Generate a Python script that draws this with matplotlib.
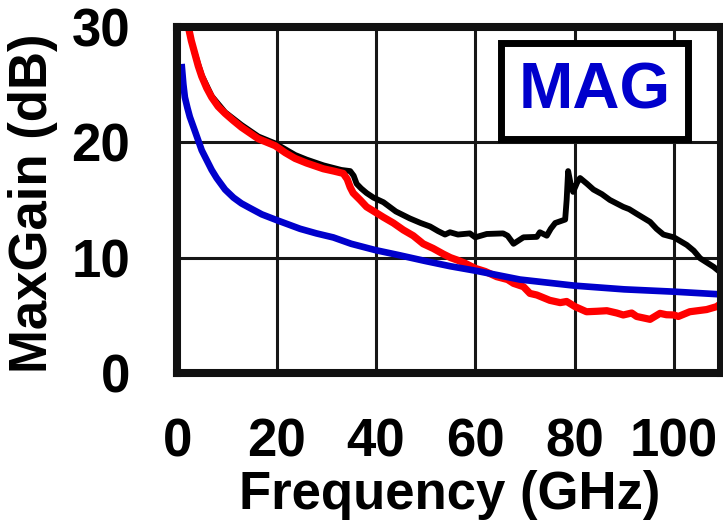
import matplotlib
matplotlib.use("Agg")
import matplotlib.pyplot as plt
from matplotlib.patches import Rectangle

# MAG curves (frequency in GHz, gain in dB)
blue_x = [0.9, 1.2, 1.5, 2.0, 2.5, 3.5, 4.9, 6.9, 7.9, 9.6, 11.3, 12.9, 14.6, 17.0, 20.0,
          24.7, 28.0, 31.4, 35.0, 39.8, 44.8, 50.0, 55.0, 60.0, 69.0, 80.0, 90.0, 100.0, 110.0]
blue_y = [26.5, 25.0, 23.9, 23.0, 22.2, 21.0, 19.3, 17.6, 16.9, 15.9, 15.2, 14.7, 14.3, 13.75, 13.25,
          12.5, 12.1, 11.75, 11.2, 10.66, 10.2, 9.7, 9.25, 8.87, 8.1, 7.57, 7.25, 7.05, 6.8]

red_x = [1.8, 2.2, 2.8, 3.5, 4.2, 4.9, 5.9, 6.9, 8.2, 9.6, 11.2, 12.9, 14.6, 16.3, 18.0,
         19.7, 21.7, 23.7, 26.0, 29.4, 31.5, 33.4, 34.2, 34.8, 35.4, 36.8, 38.1, 40.0, 41.5,
         43.5, 45.5, 47.5, 49.5, 51.5, 53.6, 55.0, 56.3, 58.0, 60.0, 62.0, 64.3, 66.5, 67.7,
         69.7, 71.0, 72.4, 75.0, 77.1, 78.4, 80.1, 82.4, 84.5, 86.5, 88.5, 89.8, 91.5, 92.5,
         95.2, 97.2, 98.5, 100.0, 100.9, 103.2, 106.6, 108.6, 109.4, 110.0]
red_y = [31.0, 30.0, 28.8, 27.7, 26.6, 25.7, 24.7, 23.9, 23.1, 22.5, 21.9, 21.3, 20.8, 20.3, 20.0,
         19.7, 19.1, 18.6, 18.2, 17.7, 17.5, 17.3, 16.8, 16.1, 15.6, 15.0, 14.4, 13.9, 13.5,
         13.0, 12.4, 11.9, 11.2, 10.8, 10.3, 10.0, 9.8, 9.5, 9.07, 8.8, 8.35, 8.1, 7.77,
         7.48, 6.9, 6.76, 6.3, 6.1, 6.2, 5.75, 5.31, 5.35, 5.4, 5.2, 5.03, 5.2, 4.9,
         4.65, 5.17, 5.05, 5.03, 4.9, 5.31, 5.5, 5.75, 6.0, 6.5]

black_x = [3.5, 4.9, 6.9, 9.6, 12.9, 16.3, 19.7, 23.7, 26.0, 29.4, 33.0, 34.8, 35.5, 36.1, 37.0,
           38.1, 39.5, 41.5, 44.0, 46.8, 49.0, 50.9, 52.5, 53.9, 54.9, 56.5, 58.9, 60.0, 62.3,
           65.6, 66.5, 67.7, 69.7, 72.4, 73.0, 74.4, 75.2, 76.1, 78.1, 78.4, 78.7, 79.2, 79.7,
           80.5, 81.1, 82.5, 83.8, 85.5, 87.1, 89.8, 91.0, 92.5, 95.2, 96.5, 97.9, 100.0, 102.6,
           104.0, 105.3, 108.0, 110.0]
black_y = [27.7, 25.8, 24.0, 22.6, 21.5, 20.5, 19.9, 18.9, 18.5, 18.0, 17.6, 17.5, 17.1, 16.4, 16.0,
           15.6, 15.2, 14.8, 14.0, 13.4, 13.0, 12.7, 12.3, 12.0, 12.2, 12.0, 12.1, 11.76, 12.05,
           12.1, 11.9, 11.2, 11.76, 11.8, 12.2, 11.9, 12.5, 13.0, 13.3, 15.0, 17.5, 16.4, 15.7,
           16.5, 16.9, 16.4, 15.9, 15.5, 15.0, 14.4, 14.2, 13.8, 13.1, 12.5, 12.0, 11.76, 11.1,
           10.6, 9.94, 9.2, 8.5]

x_ticks = [0, 20, 40, 60, 80, 100]
y_ticks = [0, 10, 20, 30]


def main() -> None:
    plt.rcParams["font.family"] = ["Liberation Sans", "DejaVu Sans"]
    plt.rcParams["font.weight"] = "bold"

    fig = plt.figure(figsize=(7.23, 5.23), dpi=100)
    ax = fig.add_axes([0.2454, 0.2868, 0.7519, 0.6618])

    ax.plot(black_x, black_y, color="black", lw=4.2, solid_joinstyle="round", zorder=3)
    ax.plot(red_x, red_y, color="#ff0000", lw=5.2, solid_joinstyle="round", zorder=4)
    ax.plot(blue_x, blue_y, color="#0000cc", lw=4.8, solid_joinstyle="round", zorder=4)

    ax.set_xlim(0, 109.5)
    ax.set_ylim(0, 30)
    ax.set_xticks(x_ticks)
    ax.set_yticks(y_ticks)
    ax.grid(True, color="#161616", lw=2.2)
    ax.set_axisbelow(True)
    ax.tick_params(length=0, labelsize=38)
    ax.tick_params(axis="y", pad=34)
    ax.tick_params(axis="x", pad=32)
    for lab in ax.get_xticklabels() + ax.get_yticklabels():
        lab.set_fontweight("bold")

    for sp in ax.spines.values():
        sp.set_linewidth(5.8)
        sp.set_color("#111111")
        sp.set_zorder(10)

    ax.set_xlabel("Frequency (GHz)", fontsize=38, fontweight="bold", labelpad=2)
    fig.text(33 / 723, 1 - 203 / 523, "MaxGain (dB)", rotation=90, fontsize=38,
             fontweight="bold", ha="center", va="center")

    # legend-like box
    ax.add_patch(Rectangle((65.1, 20.32), 37.8, 8.32, facecolor="white",
                           edgecolor="black", lw=5.0, zorder=6))
    ax.text(84.1, 24.4, "MAG", color="#0000cc", fontsize=47, fontweight="bold",
            ha="center", va="center", zorder=7)

    fig.savefig("out.png", dpi=100)


if __name__ == "__main__":
    main()
